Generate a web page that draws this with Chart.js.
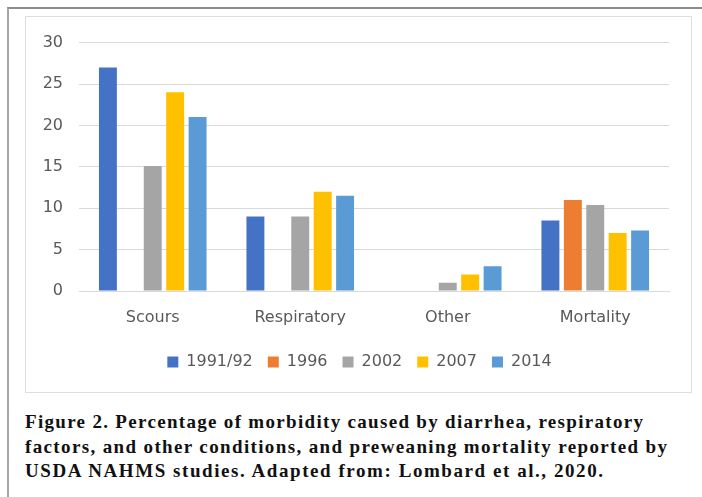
<!DOCTYPE html>
<html>
<head>
<meta charset="utf-8">
<script src="https://cdn.jsdelivr.net/npm/chart.js@4.4.1/dist/chart.umd.min.js"></script>
<style>
    html, body { margin: 0; padding: 0; background: #fff; }
    body { width: 702px; height: 497px; position: relative; overflow: hidden; }
    #frame {
        position: absolute; left: 7px; top: 7px; width: 720px; height: 520px;
        border-left: 2px solid #a6a6a6; border-top: 2px solid #8c8c8c;
    }
    #box {
        position: absolute; left: 25px; top: 16px; width: 665px; height: 375px;
        border: 1px solid #dedede;
    }
    #box canvas { position: absolute; left: 0; top: 0; }
    #caption {
        position: absolute; left: 25px; top: 410px;
        font-family: "Liberation Serif", serif; font-weight: bold;
        font-size: 19px; line-height: 24.5px; color: #111;
        white-space: nowrap;
    }
</style>
</head>
<body>
<div id="frame"></div>
<div id="box"><canvas id="chart" width="667" height="377"></canvas></div>
<div id="caption">
    <div class="ln">Figure 2. Percentage of morbidity caused by diarrhea, respiratory</div>
    <div class="ln">factors, and other conditions, and preweaning mortality reported by</div>
    <div class="ln">USDA NAHMS studies. Adapted from: Lombard et al., 2020.</div>
</div>
<script>
// Chart data
const categories = ['Scours', 'Respiratory', 'Other', 'Mortality'];
const years = ['1991/92', '1996', '2002', '2007', '2014'];
const values1991 = [27, 9, null, 8.5];
const values1996 = [null, null, null, 11];
const values2002 = [15.1, 9, 1, 10.4];
const values2007 = [24, 12, 2, 7];
const values2014 = [21, 11.5, 3, 7.3];
const yTicks = [0, 5, 10, 15, 20, 25, 30];

// Office palette
const COLORS = ['#4472C4', '#ED7D31', '#A5A5A5', '#FFC000', '#5B9BD5'];
const TEXT = '#595959';
const GRID = '#d9d9d9';

const series = [values1991, values1996, values2002, values2007, values2014];

// fit caption lines to the reference widths
const lineWidths = [618, 642, 578];
document.querySelectorAll('#caption .ln').forEach((el, i) => {
    el.style.display = 'inline-block';
    const w = el.getBoundingClientRect().width;
    const n = el.textContent.length - 1;
    el.style.letterSpacing = ((lineWidths[i] - w) / n).toFixed(3) + 'px';
    el.style.display = 'block';
});

new Chart(document.getElementById('chart').getContext('2d'), {
    type: 'bar',
    data: {
        labels: categories,
        datasets: series.map((data, i) => ({
            label: years[i],
            data: data,
            backgroundColor: COLORS[i],
            borderWidth: 0,
            categoryPercentage: 0.76,
            barPercentage: 0.8
        }))
    },
    options: {
        responsive: false,
        animation: false,
        layout: { padding: { top: 24, right: 0, left: 0, bottom: 14 } },
        plugins: {
            tooltip: { enabled: false },
            legend: {
                position: 'bottom',
                labels: {
                    color: TEXT,
                    font: { family: 'DejaVu Sans', size: 16 },
                    boxWidth: 11,
                    boxHeight: 11,
                    padding: 15
                }
            }
        },
        scales: {
            x: {
                grid: { display: false, drawTicks: false },
                border: { color: GRID, width: 1 },
                ticks: {
                    color: TEXT,
                    font: { family: 'DejaVu Sans', size: 16 },
                    padding: 17
                },
                afterFit: s => { s.height = 48; }
            },
            y: {
                min: 0,
                max: 30,
                afterBuildTicks: s => { s.ticks = yTicks.map(v => ({ value: v })); },
                grid: { color: GRID, lineWidth: 1, drawTicks: false },
                border: { display: false },
                ticks: {
                    color: TEXT,
                    font: { family: 'DejaVu Sans', size: 16 },
                    padding: 16
                },
                afterFit: s => { s.width = 53; }
            },
            // empty right axis, just keeps the right margin
            yRight: {
                position: 'right',
                grid: { display: false },
                border: { display: false },
                ticks: { display: false },
                afterFit: s => { s.width = 24; }
            }
        }
    }
});
</script>
</body>
</html>
